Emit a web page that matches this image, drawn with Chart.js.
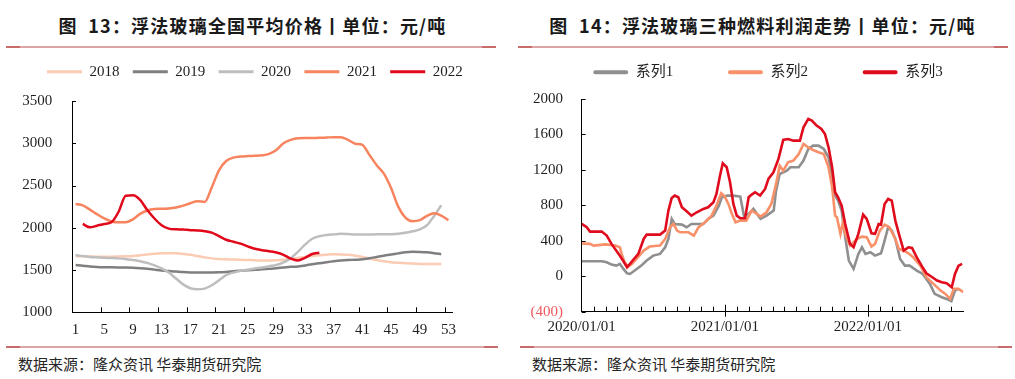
<!DOCTYPE html>
<html><head><meta charset="utf-8">
<script src="https://cdn.jsdelivr.net/npm/chart.js@4.4.0/dist/chart.umd.min.js"></script>
<style>
html,body{margin:0;padding:0;background:#fff;width:1015px;height:379px;overflow:hidden;position:relative;font-family:"Noto Sans CJK SC",sans-serif;}
.title{position:absolute;top:14px;width:505px;height:22px;line-height:22px;font-size:18px;font-weight:bold;color:#1a1a1a;text-align:center;letter-spacing:1.2px;white-space:nowrap;}
.rule{position:absolute;height:2px;background:#DBA5A5;}
.rule::before,.rule::after{content:"";position:absolute;top:0;width:14px;height:2px;background:#C96B6B;}
.rule::before{left:0}.rule::after{right:0}
.src{position:absolute;top:354px;font-size:15px;line-height:20px;color:#262626;white-space:nowrap;}
.box{position:absolute;}
</style></head>
<body>
<div class="title" style="left:0">图&nbsp; 13：浮法玻璃全国平均价格丨单位：元/吨</div>
<div class="title" style="left:510px">图&nbsp; 14：浮法玻璃三种燃料利润走势丨单位：元/吨</div>
<div class="rule" style="left:6px;top:46px;width:490px"></div>
<div class="rule" style="left:518px;top:46px;width:490px"></div>
<div class="rule" style="left:6px;top:346px;width:492px"></div>
<div class="rule" style="left:520px;top:346px;width:492px"></div>
<div class="src" style="left:18px">数据来源：隆众资讯 华泰期货研究院</div>
<div class="src" style="left:532px">数据来源：隆众资讯 华泰期货研究院</div>
<div class="box" style="left:0;top:51px;width:505px;height:294px"><canvas id="c1" width="505" height="294"></canvas></div>
<div class="box" style="left:510px;top:10px;width:505px;height:335px"><canvas id="c2" width="505" height="335"></canvas></div>
<script>
// ---------- Chart 13 data (weekly) ----------
const weeks = ['1','2','3','4','5','6','7','8','9','10','11','12','13','14','15','16','17','18','19','20','21','22','23','24','25','26','27','28','29','30','31','32','33','34','35','36','37','38','39','40','41','42','43','44','45','46','47','48','49','50','51','52','53'];
const y2018 = [1665,1662,1660,1658,1657,1658,1660,1663,1667,1675, 1684,1692,1698,1700,1698,1690,1680,1665,1650,1638, 1630,1627,1625,1623,1620,1615,1612,1612,1616,1622, 1630,1642,1655,1666,1675,1682,1686,1685,1680,1670, 1656,1637,1618,1603,1592,1586,1581,1576,1572,1570, 1570,1570,null];
const y2019 = [1560,1552,1542,1536,1533,1532,1531,1530,1527,1522, 1515,1505,1495,1488,1482,1476,1472,1470,1470,1471, 1473,1478,1485,1492,1498,1503,1508,1514,1522,1530, 1538,1543,1555,1568,1580,1592,1603,1612,1618,1622, 1627,1640,1655,1670,1683,1697,1710,1715,1714,1710, 1700,1688,null];
const y2020 = [1678,1665,1655,1650,1645,1642,1638,1630,1620,1605, 1585,1555,1520,1470,1400,1330,1285,1272,1280,1320, 1380,1440,1470,1490,1505,1518,1530,1545,1560,1590, 1640,1715,1800,1870,1900,1915,1922,1928,1925,1920, 1920,1920,1922,1922,1923,1928,1940,1958,1980,2030, 2140,2266,null];
const y2021 = [2282,2265,2215,2160,2110,2075,2065,2065,2100,2165, 2205,2222,2225,2228,2240,2262,2290,2315,2305,2480, 2680,2790,2830,2842,2848,2852,2858,2875,2920,3000, 3040,3060,3062,3062,3064,3068,3072,3072,3040,2995, 2982,2860,2740,2640,2470,2250,2120,2078,2090,2140, 2172,2145,2090];
const y2022 = [null,2045,2005,2025,2045,2065,2190,2380,2385,2330, 2210,2110,2030,1990,1982,1980,1972,1968,1960,1942, 1900,1858,1835,1812,1780,1752,1735,1722,1708,1680, 1635,1612,1645,1690,1705, null,null,null,null,null, null,null,null,null,null,null,null,null,null,null, null,null,null];
const yearNames = ['2018','2019','2020','2021','2022'];
const yearColors = ['#FBCBB3','#7F7F7F','#BEBEBE','#F7845E','#E0081A'];
const weekTickEvery = 4;

// ---------- Chart 14 data (x = months since 2020/01/01) ----------
const s1M = [0,1.7,2.1,2.5,2.9,3.2,3.5,3.8,4.05,4.5,5.0,5.45,6.0,6.57,7.0,7.27,7.55,7.8,8.4,8.8,9.2,10.2,10.6,11.05,11.5,11.75,12.2,12.7,13.3,13.6,14.0,14.4,15.0,15.5,16.1,16.3,16.6,17.2,17.5,18.2,18.6,19.0,19.4,19.85,20.3,20.7,21.0,21.25,21.5,21.8,22.1,22.4,22.8,23.2,23.5,23.8,24.2,24.6,25.1,25.4,25.7,26.0,26.3,26.7,27.1,27.5,28.1,28.6,29.2,29.6,30.2,30.6,31.0,31.3,31.6];
const s1V = [169,169,158,132,120,139,83,34,26,71,120,177,233,252,327,421,647,590,583,553,590,590,647,684,797,891,910,910,899,684,703,760,647,684,741,966,1154,1192,1230,1230,1305,1436,1474,1474,1436,1342,1117,910,854,741,440,177,83,252,327,252,271,233,259,402,553,515,421,196,120,120,64,26,-86,-199,-237,-256,-282,-162,-143];
const s2M = [0,0.7,1.0,2.0,2.8,3.2,3.35,3.6,3.9,4.2,4.6,5.2,5.7,6.57,7.0,7.4,7.7,8.0,8.25,8.95,9.4,9.8,10.35,10.9,11.3,11.7,12.0,12.3,12.6,12.9,13.3,13.8,14.26,14.7,15.0,15.5,15.9,16.3,16.6,16.9,17.3,17.75,18.2,18.6,19.0,19.4,19.85,20.3,20.7,21.0,21.25,21.4,21.7,21.9,22.1,22.5,23.1,23.5,23.9,24.3,24.6,25.0,25.4,25.8,26.3,26.6,27.0,27.4,27.8,28.4,28.9,29.5,30.1,30.5,30.9,31.2,31.6,32.0];
const s2V = [370,365,346,360,346,327,252,158,109,139,196,290,335,346,421,553,590,515,496,496,459,553,609,684,797,936,899,816,703,609,628,628,741,703,673,722,816,1042,1248,1192,1286,1305,1380,1493,1455,1425,1399,1380,1230,1004,684,666,478,609,478,346,421,447,440,335,365,515,583,553,421,308,290,259,214,120,-11,-86,-162,-199,-256,-143,-143,-180];
const s3M = [0,0.42,0.7,1.68,2.1,2.5,3.1,3.5,3.8,4.05,4.5,4.75,5.2,5.45,6.57,7.0,7.27,7.55,7.8,8.1,8.4,8.8,9.2,9.65,10.2,10.6,11.05,11.3,11.6,11.83,12.16,12.44,12.72,13.0,13.3,13.7,14.0,14.26,14.54,14.96,15.38,15.66,16.08,16.5,16.9,17.3,17.75,18.3,18.6,19.0,19.3,19.7,20.1,20.4,20.7,21.0,21.25,21.5,21.8,22.1,22.5,22.8,23.2,23.6,23.9,24.3,24.6,24.9,25.1,25.4,25.7,26.0,26.3,26.6,27.0,27.4,27.7,28.1,28.5,28.9,29.4,29.8,30.2,30.6,31.03,31.3,31.6,31.9];
const s3V = [590,553,504,504,459,365,252,169,102,139,214,252,421,470,470,515,741,884,910,891,778,733,684,722,760,778,835,929,1136,1275,1230,1060,816,684,654,654,891,921,948,910,985,1098,1173,1324,1538,1549,1530,1530,1681,1775,1756,1700,1662,1605,1455,1230,948,891,797,590,365,327,478,696,647,485,478,590,583,816,872,854,628,478,290,327,320,214,120,34,-11,-49,-68,-79,-124,26,120,139];
const seriesNames = ['系列1','系列2','系列3'];
const seriesColors = ['#8F8F8F','#F8906A','#E00B1C'];
const majorMonths = [0,12,24];
const majorLabels = ['2020/01/01','2021/01/01','2022/01/01'];

// ---------- shared ----------
const serif = '"Liberation Serif", "Noto Sans CJK SC", serif';
const txt = '#1f1f1f';
function legendItems(chart){
  const items = Chart.defaults.plugins.legend.labels.generateLabels(chart);
  items.forEach(i => { i.fillStyle = i.strokeStyle; i.lineWidth = 0; });
  return items;
}
function dummyX(h){ return {type:'linear', position:'top', display:true, grid:{display:false}, border:{display:false}, ticks:{display:false}, afterFit:s=>{s.height=h;}}; }
function dummyY(w){ return {type:'linear', position:'right', display:true, grid:{display:false}, border:{display:false}, ticks:{display:false}, afterFit:s=>{s.width=w;}}; }
function seg(ctx,x1,y1,x2,y2){ ctx.beginPath(); ctx.moveTo(x1,y1); ctx.lineTo(x2,y2); ctx.stroke(); }

// inside tick marks drawn from the library's scales
const tickMarks = {
  id:'tickMarks',
  afterDraw(chart, args, o){
    const ctx = chart.ctx, a = chart.chartArea, xs = chart.scales.x, ys = chart.scales.y;
    ctx.save(); ctx.strokeStyle = '#000'; ctx.lineWidth = 1;
    o.xValues(xs).forEach(v => {
      const px = Math.round(xs.getPixelForValue(v)) + 0.5;
      const major = o.isMajor(v);
      seg(ctx, px, a.bottom - (major ? 7 : 5), px, a.bottom + (major ? 5 : 0));
    });
    ys.ticks.forEach(t => {
      const py = Math.round(ys.getPixelForValue(t.value)) + 0.5;
      seg(ctx, a.left, py, a.left + 4, py);
    });
    ctx.restore();
  }
};

// ---------- Chart 13 ----------
const yearSeries = [y2018,y2019,y2020,y2021,y2022];
new Chart(document.getElementById('c1'), {
  type:'line',
  data:{ labels: weeks, datasets: yearSeries.map((d,i)=>({
    label: yearNames[i], data: d, borderColor: yearColors[i], backgroundColor: yearColors[i],
    borderWidth: 2.5, pointRadius: 0, tension: 0.4, cubicInterpolationMode:'monotone',
    order: 5 - i, spanGaps:false
  }))},
  options:{
    responsive:false, animation:false, devicePixelRatio:1,
    layout:{padding:{left:4.7,right:0,top:0,bottom:0}},
    plugins:{
      legend:{position:'top', labels:{font:{family:serif,size:15}, color:txt, boxWidth:35, boxHeight:3, padding:13.3,
        generateLabels: legendItems, sort:(a,b)=>a.datasetIndex-b.datasetIndex}},
      tooltip:{enabled:false},
      tickMarks:{
        xValues:(xs)=> weeks.filter((w,i)=> i % weekTickEvery === 0 && i > 0).map(w => weeks.indexOf(w) - 0.5),
        isMajor:()=>false
      }
    },
    scales:{
      x:{type:'category', offset:true,
        grid:{display:false, offset:true, drawTicks:true, tickLength:-5},
        border:{display:true,color:'#000',width:1},
        ticks:{autoSkip:false, maxRotation:0, minRotation:0, padding:13.7, color:txt, font:{family:serif,size:15},
          callback:function(v,i){ return i % weekTickEvery === 0 ? this.getLabelForValue(v) : ''; }},
        afterFit:s=>{s.height=30;}
      },
      xTop: dummyX(11.7),
      y:{min:1000,max:3500,
        ticks:{stepSize:500, padding:23.7, color:txt, font:{family:serif,size:15}, callback:(v)=>String(v)},
        grid:{display:false, drawTicks:true, tickLength:-4},
        border:{display:true,color:'#000',width:1},
        afterFit:s=>{s.width=67.3;}
      },
      yRight: dummyY(53)
    }
  },
  plugins:[tickMarks]
});

// ---------- Chart 14 ----------
const sM = [s1M,s2M,s3M], sV = [s1V,s2V,s3V];
new Chart(document.getElementById('c2'), {
  type:'line',
  data:{ datasets: sM.map((ms,i)=>({
    label: seriesNames[i], data: ms.map((m,k)=>({x:m, y:sV[i][k]})),
    borderColor: seriesColors[i], backgroundColor: seriesColors[i],
    borderWidth: 2.6, pointRadius:0, tension:0, order: 3 - i
  }))},
  options:{
    responsive:false, animation:false, devicePixelRatio:1,
    layout:{padding:{left:10.9,right:0,top:0,bottom:0}},
    plugins:{
      legend:{position:'top', labels:{font:{family:serif,size:15}, color:txt, boxWidth:35, boxHeight:4, padding:54.7,
        useBorderRadius:true, borderRadius:2,
        generateLabels: legendItems, sort:(a,b)=>a.datasetIndex-b.datasetIndex}},
      tooltip:{enabled:false},
      tickMarks:{
        xValues:(xs)=> xs.ticks.map(t=>t.value).filter(v=> v > 0 && v < 32),
        isMajor:(v)=> majorMonths.includes(v)
      }
    },
    scales:{
      x:{type:'linear', min:0, max:32,
        grid:{display:false, drawTicks:true, tickLength:-5},
        border:{display:true,color:'#000',width:1},
        ticks:{stepSize:1, autoSkip:false, maxRotation:0, minRotation:0, padding:11.7, color:txt, font:{family:serif,size:15},
          callback:(v)=>{ const k = majorMonths.indexOf(v); return k >= 0 ? majorLabels[k] : ''; }},
        afterFit:s=>{s.height=33.3;}
      },
      xTop: dummyX(9.3),
      y:{min:-400,max:2000,
        ticks:{stepSize:400, padding:22.7, font:{family:serif,size:15},
          color:(c)=> (c.tick && c.tick.value < 0 ? '#F0585C' : txt),
          callback:(v)=> v < 0 ? '(' + Math.abs(v) + ')' : String(v)},
        grid:{display:false, drawTicks:true, tickLength:-4},
        border:{display:true,color:'#000',width:1},
        afterFit:s=>{s.width=60.8;}
      },
      yRight: dummyY(51.7)
    }
  },
  plugins:[tickMarks]
});
</script>
</body></html>
